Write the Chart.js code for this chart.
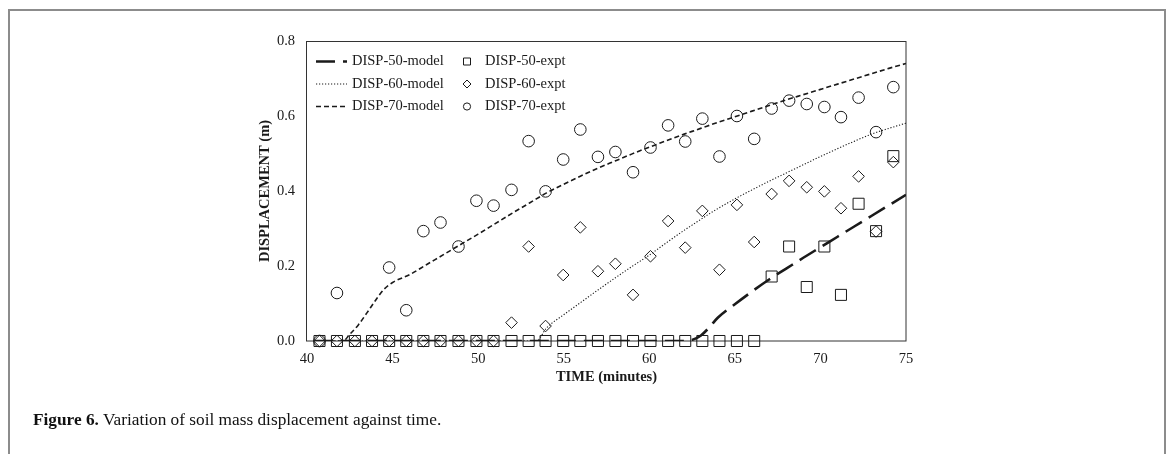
<!DOCTYPE html>
<html>
<head>
<meta charset="utf-8">
<title>Figure 6 - soil mass displacement</title>
<script src="https://cdn.jsdelivr.net/npm/chart.js@4.4.1/dist/chart.umd.min.js"></script>
<style>
  html, body { margin: 0; padding: 0; background: #fff; }
  body { width: 1168px; height: 454px; position: relative; overflow: hidden;
         font-family: 'Liberation Serif', 'Times New Roman', serif; }
  .frame { position: absolute; left: 8px; top: 9px; width: 1154px; height: 460px;
           border: 2px solid #8c8c8c; border-bottom: none; }
  #chart { position: absolute; left: 0; top: 0; }
  .caption { position: absolute; left: 33px; top: 410px; font-size: 17.3px; color: #111; white-space: nowrap; }
  .caption b { font-weight: bold; }
</style>
</head>
<body>
<div class="frame"></div>
<canvas id="chart" width="1168" height="454"></canvas>
<div class="caption"><b>Figure 6.</b> Variation of soil mass displacement against time.</div>

<script>
// ============================================
// 数据 — 从原图读取
// ============================================
const xTicks = [40, 45, 50, 55, 60, 65, 70, 75];
const yTicks = [0.0, 0.2, 0.4, 0.6, 0.8];

// experiment times (minutes)
const exptTime = [40.73, 41.75, 42.8, 43.8, 44.8, 45.8, 46.8, 47.8, 48.85, 49.9,
  50.9, 51.95, 52.95, 53.94, 54.97, 55.97, 57.0, 58.02, 59.05, 60.07,
  61.1, 62.1, 63.1, 64.1, 65.12, 66.13, 67.15, 68.17, 69.2, 70.23,
  71.2, 72.23, 73.25, 74.26];

const disp50Expt = [0, 0, 0, 0, 0, 0, 0, 0, 0, 0,
  0, 0, 0, 0, 0, 0, 0, 0, 0, 0,
  0, 0, 0, 0, 0, 0, 0.172, 0.252, 0.144, 0.252,
  0.123, 0.366, 0.293, 0.493];

const disp60Expt = [0, 0, 0, 0, 0, 0, 0, 0, 0, 0,
  0, 0.049, 0.252, 0.040, 0.176, 0.303, 0.186, 0.206, 0.123, 0.226,
  0.320, 0.249, 0.347, 0.190, 0.363, 0.264, 0.392, 0.427, 0.410, 0.399,
  0.354, 0.439, 0.292, 0.477];

const disp70Expt = [0, 0.128, null, null, 0.196, 0.082, 0.293, 0.316, 0.252, 0.374,
  0.361, 0.403, 0.533, 0.399, 0.484, 0.564, 0.491, 0.504, 0.450, 0.516,
  0.575, 0.532, 0.593, 0.492, 0.600, 0.539, 0.620, 0.641, 0.632, 0.624,
  0.597, 0.649, 0.557, 0.677];

// model curves
const modelTime = [40.4, 42.1, 42.5, 43, 43.5, 44, 44.5, 45, 46, 47,
  48, 49, 50, 51, 52, 53, 53.4, 54, 55, 56,
  57, 58, 59, 60, 61, 62, 62.5, 63, 63.5, 64,
  65, 66, 67, 68, 69, 70, 71, 72, 73, 74, 75];

const disp50Model = [0, 0, 0, 0, 0, 0, 0, 0, 0, 0,
  0, 0, 0, 0, 0, 0, 0, 0, 0, 0,
  0, 0, 0, 0, 0, 0, 0.003, 0.014, 0.036, 0.062,
  0.098, 0.132, 0.164, 0.193, 0.222, 0.25, 0.278, 0.306, 0.334, 0.362, 0.39];

const disp60Model = [0, 0, 0, 0, 0, 0, 0, 0, 0, 0,
  0, 0, 0, 0, 0, 0, 0, 0.035, 0.07, 0.103,
  0.136, 0.168, 0.199, 0.229, 0.262, 0.294, 0.309, 0.324, 0.339, 0.353,
  0.379, 0.403, 0.426, 0.448, 0.47, 0.492, 0.513, 0.533, 0.552, 0.567, 0.581];

const disp70Model = [0, 0, 0.018, 0.043, 0.075, 0.108, 0.138, 0.156, 0.177, 0.204,
  0.231, 0.258, 0.285, 0.313, 0.341, 0.368, 0.379, 0.395, 0.418, 0.44,
  0.461, 0.48, 0.499, 0.517, 0.534, 0.551, 0.559, 0.567, 0.575, 0.583,
  0.598, 0.613, 0.628, 0.643, 0.657, 0.671, 0.685, 0.699, 0.713, 0.727, 0.74];

// ============================================
// 样式
// ============================================
const FONT = "'Liberation Serif', 'Times New Roman', serif";
const INK = '#1a1a1a';

function toPoints(xs, ys) {
  return xs.map((x, i) => ({ x, y: ys[i] })).filter(p => p.y !== null);
}

function modelSet(label, ys, width, dash) {
  return {
    type: 'line',
    label,
    data: toPoints(modelTime, ys),
    borderColor: INK,
    borderWidth: width,
    borderDash: dash,
    pointRadius: 0,
    cubicInterpolationMode: 'monotone',
    fill: false,
    order: 0,
  };
}

function exptSet(label, ys, style, radius) {
  return {
    type: 'scatter',
    label,
    data: toPoints(exptTime, ys),
    pointStyle: style,
    pointRadius: radius,
    pointBorderWidth: 1,
    pointBorderColor: INK,
    pointBackgroundColor: 'rgba(0,0,0,0)',
    clip: false,
    order: 1,
  };
}

// ============================================
// 图框 + 图例 (画在绘图区内)
// ============================================
const paperBox = {
  id: 'paperBox',
  beforeDatasetsDraw(chart) {
    const { ctx, chartArea: a } = chart;
    ctx.save();
    ctx.strokeStyle = '#333';
    ctx.lineWidth = 1;
    ctx.strokeRect(a.left - 0.5, a.top + 0.5, a.width + 0.5, a.height - 0.5);
    ctx.restore();
  },
  afterDatasetsDraw(chart) {
    const { ctx, chartArea: a } = chart;
    const sets = chart.data.datasets;
    const rows = [[0, 3], [1, 4], [2, 5]];
    const rowY = [20.5, 43, 65.5];
    ctx.save();
    ctx.font = '14.5px ' + FONT;
    ctx.fillStyle = INK;
    ctx.textBaseline = 'middle';
    rows.forEach(([li, mi], r) => {
      const y = a.top + rowY[r];
      const line = sets[li];
      const mark = sets[mi];
      // line sample
      ctx.strokeStyle = INK;
      ctx.lineWidth = line.borderWidth;
      ctx.setLineDash(line.borderDash);
      ctx.beginPath();
      ctx.moveTo(a.left + 9, y);
      ctx.lineTo(a.left + 40, y);
      ctx.stroke();
      ctx.setLineDash([]);
      ctx.fillText(line.label, a.left + 45, y);
      // marker sample
      const mx = a.left + 160;
      ctx.lineWidth = 1;
      ctx.beginPath();
      if (mark.pointStyle === 'rect') {
        ctx.rect(mx - 3.5, y - 3.5, 7, 7);
      } else if (mark.pointStyle === 'rectRot') {
        ctx.moveTo(mx, y - 4); ctx.lineTo(mx + 4, y); ctx.lineTo(mx, y + 4); ctx.lineTo(mx - 4, y);
        ctx.closePath();
      } else {
        ctx.arc(mx, y, 3.6, 0, Math.PI * 2);
      }
      ctx.stroke();
      ctx.fillText(mark.label, a.left + 178, y);
    });
    ctx.restore();
  }
};

// ============================================
// 图表
// ============================================
const ctx = document.getElementById('chart').getContext('2d');

new Chart(ctx, {
  data: {
    datasets: [
      modelSet('DISP-50-model', disp50Model, 2.6, [19, 8]),
      modelSet('DISP-60-model', disp60Model, 1.1, [1.2, 1.8]),
      modelSet('DISP-70-model', disp70Model, 1.6, [5, 3]),
      exptSet('DISP-50-expt', disp50Expt, 'rect', 7.8),
      exptSet('DISP-60-expt', disp60Expt, 'rectRot', 5.8),
      exptSet('DISP-70-expt', disp70Expt, 'circle', 5.8),
    ],
  },
  options: {
    responsive: false,
    animation: false,
    devicePixelRatio: 1,
    events: [],
    layout: { padding: { left: 257, right: 262, top: 41, bottom: 68 } },
    plugins: {
      legend: { display: false },
      tooltip: { enabled: false },
    },
    scales: {
      x: {
        type: 'linear',
        min: xTicks[0],
        max: xTicks[xTicks.length - 1],
        afterBuildTicks: s => { s.ticks = xTicks.map(v => ({ value: v })); },
        afterFit: s => { s.height = 45; },
        grid: { display: false, drawTicks: false },
        border: { display: false },
        ticks: { color: INK, padding: 9, font: { family: FONT, size: 14.5 } },
        title: {
          display: true,
          text: 'TIME (minutes)',
          color: INK,
          padding: 0,
          font: { family: FONT, size: 14.5, weight: 'bold' },
        },
      },
      y: {
        type: 'linear',
        min: yTicks[0],
        max: yTicks[yTicks.length - 1],
        afterBuildTicks: s => { s.ticks = yTicks.map(v => ({ value: v })); },
        afterFit: s => { s.width = 50; },
        grid: { display: false, drawTicks: false },
        border: { display: false },
        ticks: {
          color: INK, padding: 12, font: { family: FONT, size: 14.5 },
          callback: v => Number(v).toFixed(1),
        },
        title: {
          display: true,
          text: 'DISPLACEMENT (m)',
          color: INK,
          padding: 0,
          font: { family: FONT, size: 14.5, weight: 'bold' },
        },
      },
    },
  },
  plugins: [paperBox],
});
</script>
</body>
</html>
